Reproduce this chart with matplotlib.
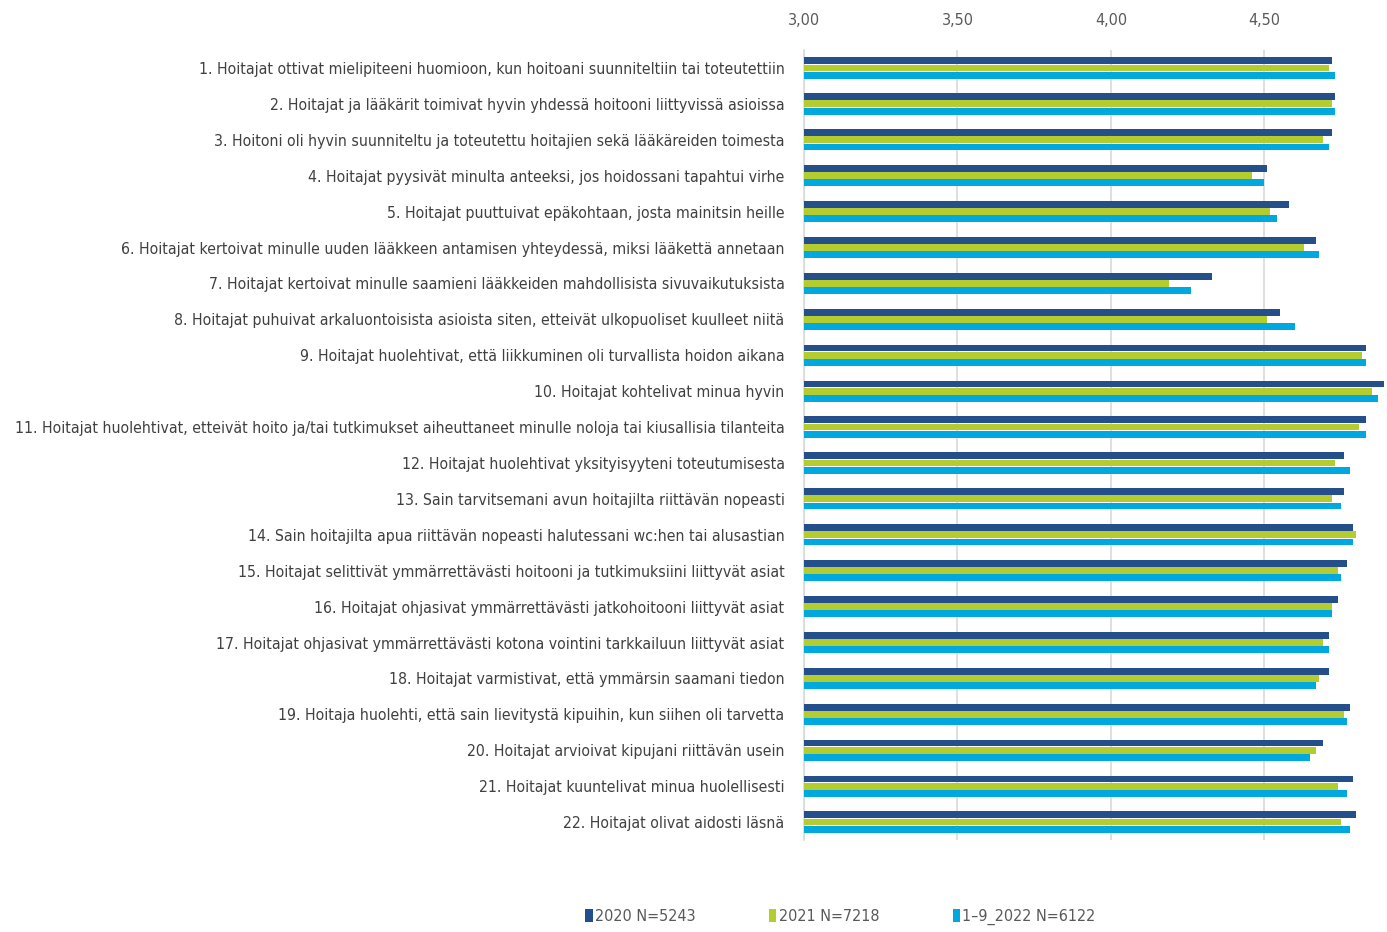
import matplotlib.pyplot as plt
from matplotlib.ticker import FixedLocator, FuncFormatter
from matplotlib import font_manager
import numpy as np

questions = [
    "1. Hoitajat ottivat mielipiteeni huomioon, kun hoitoani suunniteltiin tai toteutettiin",
    "2. Hoitajat ja lääkärit toimivat hyvin yhdessä hoitooni liittyvissä asioissa",
    "3. Hoitoni oli hyvin suunniteltu ja toteutettu hoitajien sekä lääkäreiden toimesta",
    "4. Hoitajat pyysivät minulta anteeksi, jos hoidossani tapahtui virhe",
    "5. Hoitajat puuttuivat epäkohtaan, josta mainitsin heille",
    "6. Hoitajat kertoivat minulle uuden lääkkeen antamisen yhteydessä, miksi lääkettä annetaan",
    "7. Hoitajat kertoivat minulle saamieni lääkkeiden mahdollisista sivuvaikutuksista",
    "8. Hoitajat puhuivat arkaluontoisista asioista siten, etteivät ulkopuoliset kuulleet niitä",
    "9. Hoitajat huolehtivat, että liikkuminen oli turvallista hoidon aikana",
    "10. Hoitajat kohtelivat minua hyvin",
    "11. Hoitajat huolehtivat, etteivät hoito ja/tai tutkimukset aiheuttaneet minulle noloja tai kiusallisia tilanteita",
    "12. Hoitajat huolehtivat yksityisyyteni toteutumisesta",
    "13. Sain tarvitsemani avun hoitajilta riittävän nopeasti",
    "14. Sain hoitajilta apua riittävän nopeasti halutessani wc:hen tai alusastian",
    "15. Hoitajat selittivät ymmärrettävästi hoitooni ja tutkimuksiini liittyvät asiat",
    "16. Hoitajat ohjasivat ymmärrettävästi jatkohoitooni liittyvät asiat",
    "17. Hoitajat ohjasivat ymmärrettävästi kotona vointini tarkkailuun liittyvät asiat",
    "18. Hoitajat varmistivat, että ymmärsin saamani tiedon",
    "19. Hoitaja huolehti, että sain lievitystä kipuihin, kun siihen oli tarvetta",
    "20. Hoitajat arvioivat kipujani riittävän usein",
    "21. Hoitajat kuuntelivat minua huolellisesti",
    "22. Hoitajat olivat aidosti läsnä",
]

series_names = ["2020 N=5243", "2021 N=7218", "1\u20139_2022 N=6122"]

values_2020 = [4.72, 4.73, 4.72, 4.51, 4.58, 4.67, 4.33, 4.55, 4.83, 4.89, 4.83,
               4.76, 4.76, 4.79, 4.77, 4.74, 4.71, 4.71, 4.78, 4.69, 4.79, 4.80]
values_2021 = [4.71, 4.72, 4.69, 4.46, 4.52, 4.63, 4.19, 4.51, 4.82, 4.85, 4.81,
               4.73, 4.72, 4.80, 4.74, 4.72, 4.69, 4.68, 4.76, 4.67, 4.74, 4.75]
values_2022 = [4.73, 4.73, 4.71, 4.50, 4.54, 4.68, 4.26, 4.60, 4.83, 4.87, 4.83,
               4.78, 4.75, 4.79, 4.75, 4.72, 4.71, 4.67, 4.77, 4.65, 4.77, 4.78]

colors = ["#254f8b", "#b5cc2e", "#00a8e0"]

# narrow font if one is installed
stretches = {(f.name, f.stretch) for f in font_manager.fontManager.ttflist}
if ("DejaVu Sans", "condensed") in stretches or ("DejaVu Sans", 75) in stretches:
    fam, stretch, lsize = "DejaVu Sans", "condensed", 11.3
else:
    fam, stretch, lsize = "DejaVu Sans", "normal", 10.2

plt.rcParams['font.family'] = [fam, 'DejaVu Sans']
plt.rcParams['font.stretch'] = stretch

fig = plt.figure(figsize=(13.87, 9.32), dpi=100)
ax = fig.add_axes([0.5797, 0.0987, 0.4203, 0.8476])

y = np.arange(len(questions))
h = 0.2
for i, vals in enumerate([values_2020, values_2021, values_2022]):
    ax.barh(y + (i - 1) * h, np.array(vals) - 3.0, left=3.0, height=h * 0.95,
            color=colors[i], label=series_names[i], zorder=3)

ax.set_xlim(3.0, 4.9)
ax.set_ylim(len(questions) - 0.5, -0.5)
ax.xaxis.set_major_locator(FixedLocator([3.0, 3.5, 4.0, 4.5]))
ax.xaxis.set_major_formatter(FuncFormatter(lambda v, p: f"{v:.2f}".replace(".", ",")))
ax.xaxis.tick_top()
ax.tick_params(axis='x', length=0, pad=16, labelsize=11.5, labelcolor="#595959")
ax.set_yticks(y)
ax.set_yticklabels(questions, fontsize=lsize, color="#404040")
ax.tick_params(axis='y', length=0, pad=14)
ax.grid(axis='x', color="#d9d9d9", linewidth=1.2, zorder=0)
for s in ['top', 'right', 'bottom']:
    ax.spines[s].set_visible(False)
ax.spines['left'].set_color("#d9d9d9")
ax.spines['left'].set_linewidth(1.2)

fig.legend(loc='lower center', bbox_to_anchor=(0.606, -0.008), ncol=3, frameon=False,
           fontsize=11.5, handlelength=0.45, handleheight=0.9, handletextpad=0.15,
           columnspacing=4.6, labelcolor="#595959")

fig.savefig("out.png", dpi=100)
